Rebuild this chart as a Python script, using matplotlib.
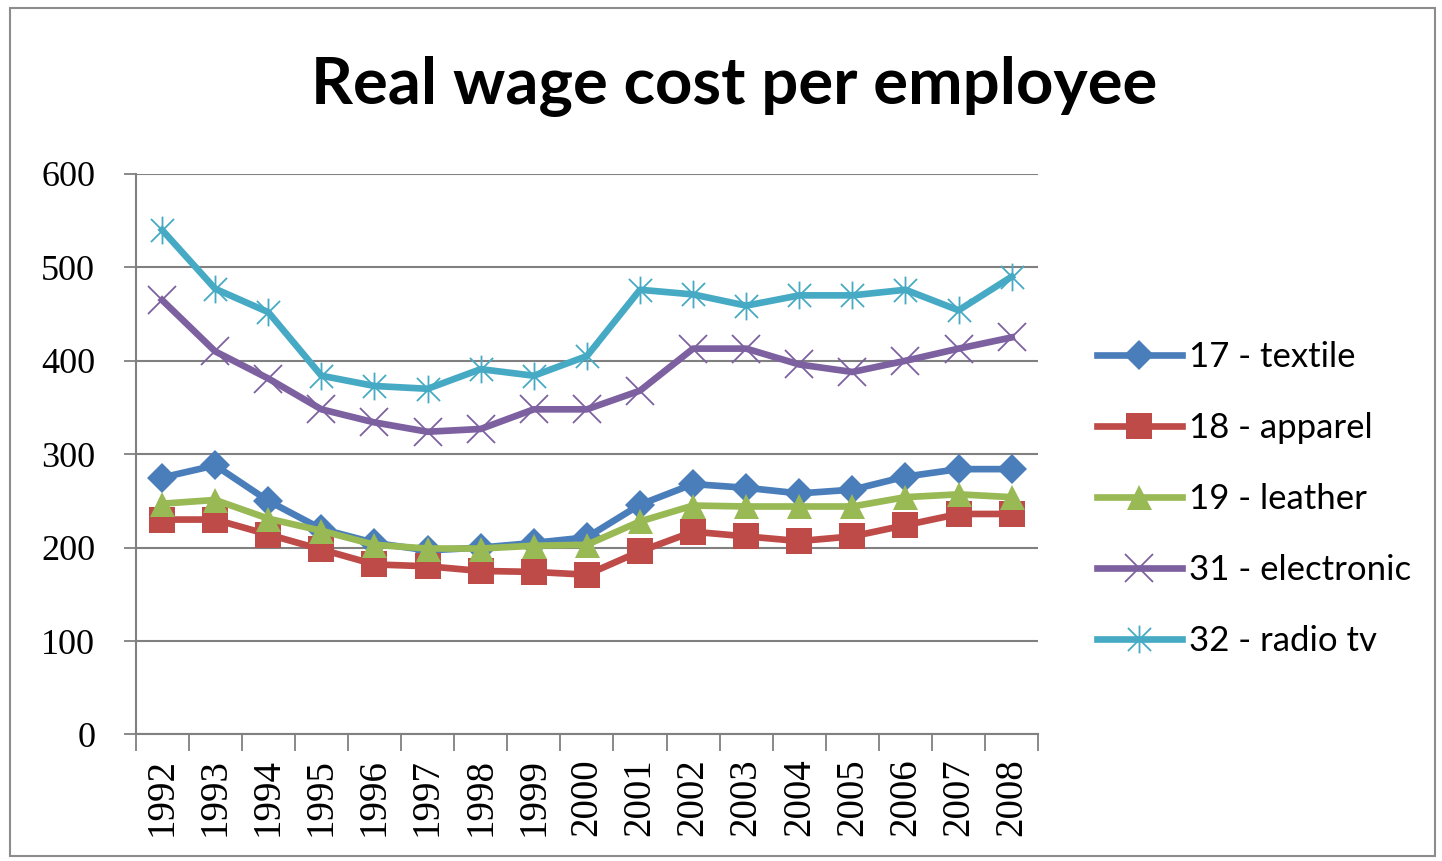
# Real wage cost per employee, by industry, 1992-2008
import numpy as np
import matplotlib.pyplot as plt
from matplotlib.path import Path
from matplotlib.patches import Rectangle

years = [str(y) for y in range(1992, 2009)]

textile = [275, 288, 250, 220, 205, 197, 200, 205, 211, 246, 268, 264, 258, 262, 276, 284, 284]
apparel = [230, 230, 214, 198, 182, 180, 175, 174, 171, 196, 217, 212, 207, 212, 224, 236, 236]
leather = [247, 251, 231, 218, 203, 199, 199, 202, 203, 228, 245, 244, 244, 244, 254, 257, 254]
electronic = [465, 410, 381, 348, 334, 324, 327, 348, 348, 368, 413, 413, 396, 388, 400, 413, 425]
radio_tv = [540, 477, 452, 384, 373, 370, 391, 384, 405, 476, 471, 459, 470, 470, 476, 454, 490]

labels = ["17 - textile", "18 - apparel", "19 - leather", "31 - electronic", "32 - radio tv"]
colors = ["#4A7EBB", "#BE4B48", "#98B954", "#7D60A0", "#46AAC5"]

# Excel style star marker: an "x" with a vertical stroke
star = Path([(-1, -1), (1, 1), (-1, 1), (1, -1), (0, -1.2), (0, 1.2)],
            [Path.MOVETO, Path.LINETO, Path.MOVETO, Path.LINETO, Path.MOVETO, Path.LINETO])

fig = plt.figure(figsize=(14.42, 8.61), dpi=100)
ax = fig.add_axes([0.094, 0.147, 0.626, 0.651])

x = np.arange(len(years))
series = [textile, apparel, leather, electronic, radio_tv]
markers = ["D", "s", "^", "x", star]
msizes = [15, 19, 18, 20, 20]

for vals, lab, col, mk, ms in zip(series, labels, colors, markers, msizes):
    if mk == "x" or isinstance(mk, Path):
        ax.plot(x, vals, color=col, lw=4.8, marker=mk, markersize=ms,
                markeredgewidth=1.3, markeredgecolor=col, label=lab, zorder=3)
    else:
        ax.plot(x, vals, color=col, lw=4.8, marker=mk, markersize=ms,
                markeredgewidth=0, markerfacecolor=col, label=lab, zorder=3)

ax.set_xlim(-0.5, len(years) - 0.5)
ax.set_ylim(0, 600)
ax.set_yticks(range(0, 601, 100))
ax.yaxis.grid(True, color="#808080", lw=1.5)
ax.set_axisbelow(True)

# category labels at the centres, tick marks at the boundaries
ax.set_xticks(x)
ax.set_xticklabels(years, rotation=90, fontsize=28, family="Liberation Serif")
ax.set_xticks(np.arange(-0.5, len(years), 1), minor=True)
ax.tick_params(axis="x", which="major", length=0, pad=17)
ax.tick_params(axis="x", which="minor", length=12, width=1.3, color="#808080")
ax.tick_params(axis="y", length=9, width=1.3, color="#808080", pad=20)
for t in ax.get_yticklabels():
    t.set_fontsize(26)
    t.set_family("Liberation Serif")

for side in ("top", "right"):
    ax.spines[side].set_visible(False)
for side in ("left", "bottom"):
    ax.spines[side].set_color("#808080")
    ax.spines[side].set_linewidth(1.5)

fig.text(0.509, 0.9, "Real wage cost per employee", ha="center", va="center",
         fontsize=47, fontweight="bold", family="Lato")

ax.legend(loc="center left", bbox_to_anchor=(1.03, 0.42), frameon=False,
          prop={"family": "Lato", "size": 25}, labelspacing=1.12,
          handlelength=2.45, handletextpad=0.2)

fig.patches.append(Rectangle((0.007, 0.006), 0.988, 0.985, transform=fig.transFigure,
                             fill=False, edgecolor="#8C8C8C", lw=1.5))

fig.savefig("out.png", dpi=100)
